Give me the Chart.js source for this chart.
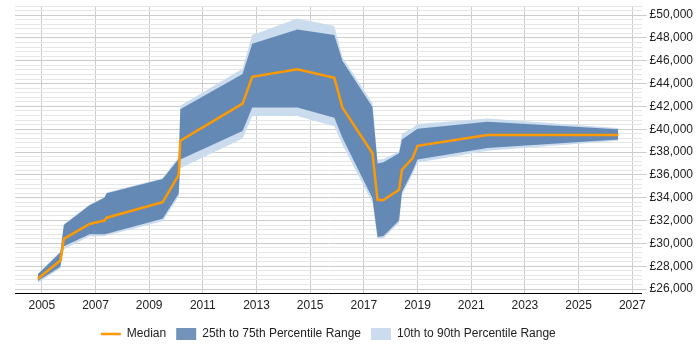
<!DOCTYPE html>
<html>
<head>
<meta charset="utf-8">
<script src="https://cdn.jsdelivr.net/npm/chart.js@4/dist/chart.umd.min.js"></script>
<style>
  html, body { margin: 0; padding: 0; background: #fff; }
  #wrap { width: 700px; height: 350px; }
</style>
</head>
<body>
<div id="wrap"><canvas id="chart"></canvas></div>
<script>
// sample dates (decimal years)
const years = [2004.85, 2005.69, 2005.82, 2006.78, 2007.33, 2007.42, 2009.50, 2010.10, 2010.16,
    2012.48, 2012.84, 2014.52, 2015.90, 2016.20, 2017.32, 2017.51, 2017.73, 2018.31, 2018.42,
    2018.81, 2019.00, 2021.60, 2026.48];

const median = [26900, 28500, 30400, 31700, 32000, 32250, 33600, 36000, 39000,
    42250, 44600, 45250, 44500, 41900, 37900, 33800, 33800, 34700, 36450,
    37450, 38550, 39500, 39500];

const p75 = [27300, 29200, 31600, 33350, 34000, 34400, 35650, 37400, 41750,
    44850, 47500, 48750, 48250, 46000, 41950, 37000, 37100, 37900, 39100,
    39730, 40050, 40650, 40000];

const p25 = [26700, 27950, 29750, 30800, 30800, 30850, 32150, 34350, 37350,
    39850, 41900, 41900, 41000, 39250, 33950, 30550, 30650, 32000, 34500,
    36300, 37350, 38350, 39100];

const p90 = [27350, 29300, 31700, 33400, 34050, 34450, 35700, 37600, 42050,
    45300, 48250, 49700, 49050, 46300, 42300, 37330, 37400, 38050, 39600,
    40100, 40450, 40950, 40100];

const p10 = [26560, 27800, 29480, 30630, 30630, 30700, 31950, 34080, 36580,
    39190, 41160, 41160, 40270, 38650, 33550, 30390, 30450, 31780, 34250,
    36030, 37090, 38120, 39000];

const yearTicks = [2005, 2007, 2009, 2011, 2013, 2015, 2017, 2019, 2021, 2023, 2025, 2027];

let toPoints = (vals) => vals.map((v, i) => ({ x: years[i], y: v }));

const DARK = 'rgba(62,106,160,0.72)';
const LIGHT = '#cadcee';

Chart.defaults.font.family = '"Liberation Sans", Arial, sans-serif';
Chart.defaults.font.size = 12;
Chart.defaults.color = '#333';

let ctx = document.querySelector('#chart').getContext('2d');

let chart = new Chart(ctx, {
    type: 'line',
    data: {
        datasets: [
            {
                label: 'Median',
                data: toPoints(median),
                borderColor: '#ff9900',
                backgroundColor: '#ff9900',
                borderWidth: 2.5,
                pointRadius: 0,
                fill: false,
                pointStyle: 'line'
            },
            {
                label: '25th to 75th Percentile Range',
                data: toPoints(p75),
                borderColor: DARK,
                backgroundColor: DARK,
                borderWidth: 0,
                pointRadius: 0,
                fill: '+1',
                pointStyle: 'rect'
            },
            {
                label: 'p25',
                data: toPoints(p25),
                borderWidth: 0,
                pointRadius: 0,
                fill: false
            },
            {
                label: '10th to 90th Percentile Range',
                data: toPoints(p90),
                borderColor: LIGHT,
                backgroundColor: LIGHT,
                borderWidth: 0,
                pointRadius: 0,
                fill: '+1',
                pointStyle: 'rect'
            },
            {
                label: 'p10',
                data: toPoints(p10),
                borderWidth: 0,
                pointRadius: 0,
                fill: false
            }
        ]
    },
    options: {
        responsive: true,
        maintainAspectRatio: false,
        animation: false,
        layout: { padding: { left: 15, right: 4, top: 6, bottom: 0 } },
        plugins: {
            tooltip: { enabled: false },
            legend: {
                position: 'bottom',
                fullSize: false,
                labels: {
                    usePointStyle: true,
                    pointStyleWidth: 20,
                    boxHeight: 12,
                    padding: 10,
                    color: '#222',
                    filter: (item) => item.text !== 'p25' && item.text !== 'p10'
                }
            }
        },
        scales: {
            x: {
                type: 'linear',
                min: 2004,
                max: 2027.35,
                afterBuildTicks: (scale) => {
                    scale.ticks = yearTicks.map(v => ({ value: v }));
                },
                ticks: {
                    padding: 5,
                    color: '#222',
                    callback: (v) => String(v)
                },
                grid: { color: '#cccccc', drawTicks: false },
                border: { color: '#000', width: 1 }
            },
            y: {
                position: 'right',
                min: 25600,
                max: 50800,
                afterFit: (scale) => {
                    scale.paddingTop = 0;
                    scale.paddingBottom = 0;
                },
                ticks: {
                    stepSize: 400,
                    padding: 3,
                    color: '#222',
                    autoSkip: false,
                    callback: (v) => v % 2000 === 0 ? '£' + v.toLocaleString('en-GB') : ''
                },
                grid: {
                    color: (c) => c.tick && c.tick.value % 2000 === 0 ? '#cccccc' : '#e6e6e6',
                    tickColor: (c) => c.tick && c.tick.value % 2000 === 0 ? '#cccccc' : 'rgba(0,0,0,0)',
                    tickLength: 5
                },
                border: { display: false }
            }
        }
    }
});
</script>
</body>
</html>
